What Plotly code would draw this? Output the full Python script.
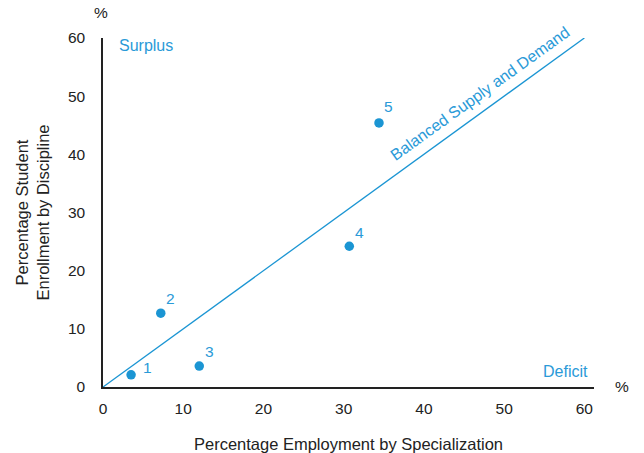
import plotly.graph_objects as go

employment = [3.5, 7.2, 12.0, 30.7, 34.4]
enrollment = [2.1, 12.7, 3.6, 24.2, 45.4]
labels = ["1", "2", "3", "4", "5"]
label_dx = [16, 10, 10, 10, 10]
label_dy = [7, 15, 15, 14, 16]
balance_x = [0, 60]
balance_y = [0, 60]
ticks = [0, 10, 20, 30, 40, 50, 60]

BLUE = "#1b95d3"
TXT = "#2a9ad8"
DARK = "#222222"
FONT = "Liberation Sans, Arial, sans-serif"

fig = go.Figure()
fig.add_trace(go.Scatter(x=balance_x, y=balance_y, mode="lines",
                         line=dict(color=BLUE, width=1.3), hoverinfo="skip"))
fig.add_trace(go.Scatter(x=employment, y=enrollment, mode="markers",
                         marker=dict(color=BLUE, size=9.5)))
for x, y, t, dx, dy in zip(employment, enrollment, labels, label_dx, label_dy):
    fig.add_annotation(x=x, y=y, text=t, showarrow=False, xshift=dx, yshift=dy,
                       font=dict(color=TXT, size=15.5, family=FONT))

fig.add_annotation(x=0, y=60, text="Surplus", showarrow=False, xanchor="left", yanchor="middle",
                   xshift=14, yshift=-7, font=dict(color=TXT, size=16, family=FONT))
fig.add_annotation(x=60, y=0, text="Deficit", showarrow=False, xanchor="right", yanchor="middle",
                   xshift=6, yshift=16, font=dict(color=TXT, size=16, family=FONT))
fig.add_annotation(x=47, y=47, text="Balanced Supply and Demand", showarrow=False,
                   textangle=-35.8, xshift=0, yshift=20,
                   font=dict(color=TXT, size=16, family=FONT))
fig.add_annotation(x=0, y=1, xref="paper", yref="paper", text="%", showarrow=False,
                   xanchor="center", yanchor="middle", xshift=-2, yshift=26,
                   font=dict(color=DARK, size=15.5, family=FONT))
fig.add_annotation(x=1, y=0, xref="paper", yref="paper", text="%", showarrow=False,
                   xanchor="center", yanchor="middle", xshift=28, yshift=1,
                   font=dict(color=DARK, size=15.5, family=FONT))

fig.update_layout(
    width=644, height=453,
    margin=dict(l=103, r=50, t=38, b=66),
    paper_bgcolor="white", plot_bgcolor="white",
    showlegend=False,
    font=dict(family=FONT, size=15.5, color=DARK),
    xaxis=dict(range=[0, 61.2], tickvals=ticks, showgrid=False, zeroline=False,
               showline=True, linecolor=DARK, linewidth=1.5, ticks="", automargin=False,
               ticklabelstandoff=7, tickfont=dict(size=15.5, color=DARK),
               title=dict(text="Percentage Employment by Specialization", standoff=22,
                          font=dict(size=16.5, color=DARK))),
    yaxis=dict(range=[0, 60], tickvals=ticks, showgrid=False, zeroline=False,
               showline=True, linecolor=DARK, linewidth=1.5, ticks="", automargin=False,
               ticklabelstandoff=13, tickfont=dict(size=15.5, color=DARK),
               title=dict(text="Percentage Student<br>Enrollment by Discipline", standoff=14,
                          font=dict(size=16.5, color=DARK))),
)
fig.write_html("out.html", config={"displayModeBar": False},
               post_script="document.body.style.margin='0';document.body.style.overflow='hidden';")
